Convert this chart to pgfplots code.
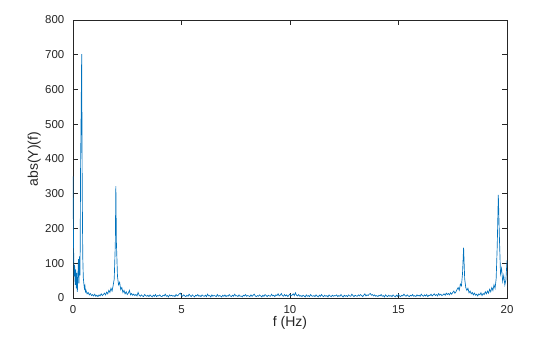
\documentclass[border=0pt]{standalone}
\usepackage{fontspec}
\setmainfont{Liberation Sans}
\usepackage{pgfplots}
\usepackage{pgfplotstable}
\pgfplotsset{compat=1.18}
\definecolor{mblue}{rgb}{0,0.447,0.741}
\definecolor{axgray}{rgb}{0.15,0.15,0.15}
\pgfplotstableread[row sep=\\]{
f y \\
0 350 \\ 0.025 150 \\ 0.05 62 \\ 0.075 95 \\ 0.1 38 \\ 0.125 82 \\ 0.15 28 \\ 0.175 72 \\ 0.2 18 \\ 0.225 58 \\
0.25 112 \\ 0.275 42 \\ 0.3 120 \\ 0.325 65 \\ 0.35 380 \\ 0.375 530 \\ 0.4 702 \\ 0.425 320 \\ 0.45 118 \\ 0.475 58 \\
0.5 42 \\ 0.525 28 \\ 0.55 35 \\ 0.575 18 \\ 0.6 22 \\
0.65 12 \\ 0.70 16 \\ 0.75 9 \\ 0.80 13 \\ 0.85 7 \\ 0.90 10 \\ 0.95 6 \\ 1.00 11 \\ 1.05 5 \\ 1.10 8 \\
1.15 4 \\ 1.20 9 \\ 1.25 6 \\ 1.30 12 \\ 1.35 7 \\ 1.40 10 \\ 1.45 14 \\ 1.50 9 \\ 1.55 17 \\ 1.60 12 \\
1.65 22 \\ 1.70 16 \\ 1.75 28 \\ 1.80 20 \\ 1.85 36 \\ 1.90 55 \\ 1.95 155 \\ 1.975 322 \\ 2.00 160 \\ 2.05 62 \\
2.10 38 \\ 2.15 45 \\ 2.20 24 \\ 2.25 30 \\ 2.30 16 \\ 2.35 22 \\ 2.40 12 \\ 2.45 18 \\ 2.50 10 \\ 2.55 14 \\
2.60 22 \\ 2.65 9 \\ 2.70 13 \\ 2.75 8 \\ 2.80 11 \\ 2.85 7 \\ 2.90 10 \\ 2.95 6 \\ 3.00 16 \\ 3.05 8 \\
3.10 5 \\ 3.15 9 \\ 3.20 6 \\ 3.25 4 \\ 3.30 10 \\ 3.35 7 \\ 3.40 5 \\ 3.45 8 \\ 3.50 4 \\ 3.55 9 \\
3.60 6 \\ 3.65 3 \\ 3.70 8 \\ 3.75 5 \\ 3.80 10 \\ 3.85 4 \\ 3.90 7 \\ 3.95 6 \\ 4.00 9 \\ 4.05 5 \\
4.10 4 \\ 4.15 8 \\ 4.20 6 \\ 4.25 11 \\ 4.30 5 \\ 4.35 7 \\ 4.40 3 \\ 4.45 9 \\ 4.50 6 \\ 4.55 8 \\
4.60 5 \\ 4.65 7 \\ 4.70 4 \\ 4.75 10 \\ 4.80 6 \\ 4.85 8 \\ 4.90 12 \\ 4.95 14 \\ 5.00 7 \\ 5.05 5 \\
5.10 9 \\ 5.15 6 \\ 5.20 4 \\ 5.25 8 \\ 5.30 5 \\ 5.35 11 \\ 5.40 7 \\ 5.45 4 \\ 5.50 9 \\ 5.55 6 \\
5.60 3 \\ 5.65 8 \\ 5.70 6 \\ 5.75 10 \\ 5.80 5 \\ 5.85 7 \\ 5.90 4 \\ 5.95 9 \\ 6.00 6 \\ 6.05 5 \\
6.10 8 \\ 6.15 4 \\ 6.20 11 \\ 6.25 6 \\ 6.30 7 \\ 6.35 3 \\ 6.40 9 \\ 6.45 5 \\ 6.50 8 \\ 6.55 6 \\
6.60 4 \\ 6.65 10 \\ 6.70 5 \\ 6.75 7 \\ 6.80 6 \\ 6.85 3 \\ 6.90 8 \\ 6.95 5 \\ 7.00 9 \\ 7.05 4 \\
7.10 7 \\ 7.15 5 \\ 7.20 10 \\ 7.25 6 \\ 7.30 4 \\ 7.35 8 \\ 7.40 5 \\ 7.45 11 \\ 7.50 6 \\ 7.55 7 \\
7.60 4 \\ 7.65 9 \\ 7.70 5 \\ 7.75 6 \\ 7.80 3 \\ 7.85 8 \\ 7.90 6 \\ 7.95 10 \\ 8.00 5 \\ 8.05 7 \\
8.10 6 \\ 8.15 4 \\ 8.20 9 \\ 8.25 5 \\ 8.30 8 \\ 8.35 11 \\ 8.40 6 \\ 8.45 4 \\ 8.50 7 \\ 8.55 5 \\
8.60 9 \\ 8.65 6 \\ 8.70 3 \\ 8.75 8 \\ 8.80 5 \\ 8.85 10 \\ 8.90 7 \\ 8.95 4 \\ 9.00 8 \\ 9.05 6 \\
9.10 5 \\ 9.15 11 \\ 9.20 6 \\ 9.25 8 \\ 9.30 4 \\ 9.35 9 \\ 9.40 7 \\ 9.45 12 \\ 9.50 6 \\ 9.55 8 \\
9.60 13 \\ 9.65 7 \\ 9.70 5 \\ 9.75 10 \\ 9.80 6 \\ 9.85 9 \\ 9.90 4 \\ 9.95 8 \\ 10.00 11 \\ 10.05 6 \\
10.10 9 \\ 10.15 12 \\ 10.20 7 \\ 10.25 15 \\ 10.30 8 \\ 10.35 6 \\ 10.40 10 \\ 10.45 5 \\ 10.50 7 \\ 10.55 4 \\
10.60 8 \\ 10.65 6 \\ 10.70 3 \\ 10.75 9 \\ 10.80 5 \\ 10.85 7 \\ 10.90 4 \\ 10.95 10 \\ 11.00 6 \\ 11.05 5 \\
11.10 7 \\ 11.15 4 \\ 11.20 9 \\ 11.25 6 \\ 11.30 3 \\ 11.35 8 \\ 11.40 5 \\ 11.45 10 \\ 11.50 6 \\ 11.55 4 \\
11.60 8 \\ 11.65 5 \\ 11.70 7 \\ 11.75 3 \\ 11.80 9 \\ 11.85 6 \\ 11.90 4 \\ 11.95 8 \\ 12.00 5 \\ 12.05 7 \\
12.10 6 \\ 12.15 9 \\ 12.20 4 \\ 12.25 7 \\ 12.30 5 \\ 12.35 10 \\ 12.40 6 \\ 12.45 3 \\ 12.50 8 \\ 12.55 5 \\
12.60 7 \\ 12.65 4 \\ 12.70 9 \\ 12.75 6 \\ 12.80 5 \\ 12.85 11 \\ 12.90 7 \\ 12.95 4 \\ 13.00 8 \\ 13.05 6 \\
13.10 5 \\ 13.15 9 \\ 13.20 6 \\ 13.25 10 \\ 13.30 7 \\ 13.35 4 \\ 13.40 8 \\ 13.45 12 \\ 13.50 6 \\ 13.55 9 \\
13.60 7 \\ 13.65 11 \\ 13.70 13 \\ 13.75 8 \\ 13.80 10 \\ 13.85 6 \\ 13.90 9 \\ 13.95 5 \\ 14.00 7 \\ 14.05 4 \\
14.10 8 \\ 14.15 6 \\ 14.20 10 \\ 14.25 5 \\ 14.30 7 \\ 14.35 3 \\ 14.40 9 \\ 14.45 6 \\ 14.50 4 \\ 14.55 8 \\
14.60 5 \\ 14.65 7 \\ 14.70 4 \\ 14.75 9 \\ 14.80 6 \\ 14.85 3 \\ 14.90 8 \\ 14.95 5 \\ 15.00 10 \\ 15.05 6 \\
15.10 4 \\ 15.15 8 \\ 15.20 6 \\ 15.25 11 \\ 15.30 7 \\ 15.35 5 \\ 15.40 9 \\ 15.45 6 \\ 15.50 4 \\ 15.55 8 \\
15.60 6 \\ 15.65 10 \\ 15.70 5 \\ 15.75 7 \\ 15.80 4 \\ 15.85 9 \\ 15.90 6 \\ 15.95 8 \\ 16.00 5 \\ 16.05 11 \\
16.10 7 \\ 16.15 5 \\ 16.20 9 \\ 16.25 6 \\ 16.30 10 \\ 16.35 4 \\ 16.40 8 \\ 16.45 7 \\ 16.50 11 \\ 16.55 6 \\
16.60 9 \\ 16.65 12 \\ 16.70 7 \\ 16.75 10 \\ 16.80 6 \\ 16.85 13 \\ 16.90 8 \\ 16.95 11 \\ 17.00 7 \\ 17.05 9 \\
17.10 12 \\ 17.15 8 \\ 17.20 14 \\ 17.25 10 \\ 17.30 13 \\ 17.35 9 \\ 17.40 15 \\ 17.45 11 \\ 17.50 16 \\ 17.55 20 \\
17.60 14 \\ 17.65 18 \\ 17.70 25 \\ 17.75 30 \\ 17.80 22 \\ 17.85 40 \\ 17.90 35 \\ 17.95 70 \\ 18.00 145 \\ 18.05 55 \\
18.10 30 \\ 18.15 22 \\ 18.20 28 \\ 18.25 15 \\ 18.30 20 \\ 18.35 12 \\ 18.40 16 \\ 18.45 9 \\ 18.50 14 \\ 18.55 8 \\
18.60 11 \\ 18.65 6 \\ 18.70 12 \\ 18.75 9 \\ 18.80 15 \\ 18.85 7 \\ 18.90 13 \\ 18.95 10 \\ 19.00 18 \\ 19.05 12 \\
19.10 20 \\ 19.15 14 \\ 19.20 25 \\ 19.25 18 \\ 19.30 30 \\ 19.35 22 \\ 19.40 38 \\ 19.45 28 \\ 19.50 55 \\ 19.55 150 \\
19.60 297 \\ 19.65 175 \\ 19.70 70 \\ 19.75 85 \\ 19.80 48 \\ 19.85 65 \\ 19.90 38 \\ 19.95 52 \\ 20.00 108 \\
}\spec
\begin{document}
\begin{tikzpicture}
\path[use as bounding box] (-54.75pt,-29.25pt) rectangle (365.25pt,223.5pt);
\begin{axis}[
  scale only axis,
  width=325.5pt, height=208.5pt,
  xmin=0, xmax=20, ymin=0, ymax=800,
  xtick={0,5,10,15,20}, ytick={0,100,...,800},
  tick align=inside,
  major tick length=3.5pt,
  axis line style={axgray, line width=0.5pt},
  tick style={axgray, line width=0.5pt},
  ticklabel style={font=\fontsize{8.6}{10}\selectfont, text=axgray},
  xticklabel shift=2pt,
  yticklabel shift=3pt,
  /pgf/number format/assume math mode=true,
  xlabel={f (Hz)}, ylabel={abs(Y)(f)},
  every axis x label/.style={font=\fontsize{10.5}{12}\selectfont, text=axgray, at={(axis description cs:0.5,-0.088)}, anchor=center},
  every axis y label/.style={font=\fontsize{10.5}{12}\selectfont, text=axgray, at={(axis description cs:-0.089,0.5)}, anchor=center, rotate=90},
  clip=true,
]
\addplot[mblue, line width=0.5pt, mark=none] table[x=f, y=y] {\spec};
\end{axis}
\end{tikzpicture}
\end{document}
